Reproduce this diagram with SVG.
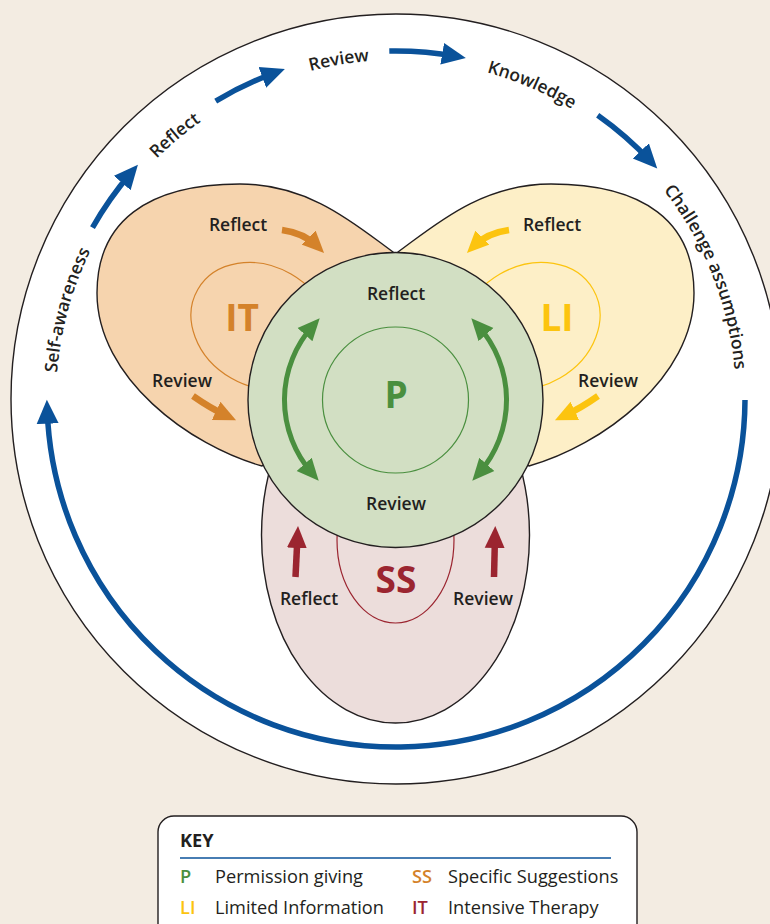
<svg xmlns="http://www.w3.org/2000/svg" width="770" height="924" viewBox="0 0 770 924">
<defs>
<style>
.lbl{font-family:"Open Sans","Noto Sans","DejaVu Sans",sans-serif;font-weight:600;font-size:17.5px;fill:#231f20}
.big{font-family:"Open Sans","Noto Sans","DejaVu Sans",sans-serif;font-weight:700;font-size:37px;text-anchor:middle}
.key{font-family:"Open Sans","Noto Sans","DejaVu Sans",sans-serif;font-size:18.2px;fill:#231f20}
.kc{font-weight:600}
.edge{stroke:#231f20;stroke-width:1.4}
.ring{fill:none;stroke-width:1.2}
.blue{fill:none;stroke:#0a529a;stroke-width:5.5}
.grn{fill:none;stroke:#4a8f3f;stroke-width:5}
.pa{fill:none;stroke-width:6.5}
</style>
<marker id="hb" viewBox="0 -12 26 24" markerWidth="26" markerHeight="24" refX="14" refY="0" orient="auto" markerUnits="userSpaceOnUse"><path d="M0,-11 L24,0 L0,11 Z" fill="#0a529a"/></marker>
<marker id="hg" viewBox="0 -11 24 22" markerWidth="24" markerHeight="22" refX="12" refY="0" orient="auto-start-reverse" markerUnits="userSpaceOnUse"><path d="M0,-10 L22,0 L0,10 Z" fill="#4a8f3f"/></marker>
<marker id="ho" viewBox="0 -11 24 22" markerWidth="24" markerHeight="22" refX="12" refY="0" orient="auto" markerUnits="userSpaceOnUse"><path d="M0,-10 L22,0 L0,10 Z" fill="#d4822a"/></marker>
<marker id="hy" viewBox="0 -11 24 22" markerWidth="24" markerHeight="22" refX="12" refY="0" orient="auto" markerUnits="userSpaceOnUse"><path d="M0,-10 L22,0 L0,10 Z" fill="#fcc40f"/></marker>
<marker id="hr" viewBox="0 -11 24 22" markerWidth="24" markerHeight="22" refX="12" refY="0" orient="auto" markerUnits="userSpaceOnUse"><path d="M0,-10 L22,0 L0,10 Z" fill="#9b2530"/></marker>
<path id="track" d="M56,400 A340,340 0 0 1 736,400 A340,340 0 0 1 56,400"/>
</defs>

<rect width="770" height="924" fill="#f3ece2"/>
<g id="outer">
<circle cx="396" cy="399" r="385" fill="#ffffff" class="edge" stroke-width="1.2"/>
</g>

<g id="cycle-labels" class="lbl">
<text><textPath href="#track" startOffset="90.8" text-anchor="middle">Self-awareness</textPath></text>
<text><textPath href="#track" startOffset="297.3" text-anchor="middle">Reflect</textPath></text>
<text><textPath href="#track" startOffset="477.1" text-anchor="middle">Review</textPath></text>
<text><textPath href="#track" startOffset="672.3" text-anchor="middle">Knowledge</textPath></text>
<text><textPath href="#track" startOffset="939.4" text-anchor="middle">Challenge assumptions</textPath></text>
</g>

<g id="node-SS">
<ellipse cx="395.5" cy="535" rx="134" ry="188" fill="#ecdddb" class="edge"/>
<ellipse cx="395.5" cy="540" rx="58.5" ry="83" class="ring" stroke="#9b2530"/>
<text class="lbl" x="309" y="605" text-anchor="middle">Reflect</text>
<text class="lbl" x="483" y="605" text-anchor="middle">Review</text>
<text class="big" x="396" y="593" fill="#9b2530">SS</text>
</g>

<g id="node-IT">
<path d="M262,466 C190,446 97,378 97,293 C97,222 147,184 240,184 C310,184 356.5,225.5 393,252 L400,330 L300,440 Z" fill="#f6d4ae" class="edge"/>
<ellipse cx="261" cy="326" rx="73" ry="60" transform="rotate(30 261 326)" class="ring" stroke="#d4822a"/>
<text class="lbl" x="238" y="231" text-anchor="middle">Reflect</text>
<text class="lbl" x="182" y="387" text-anchor="middle">Review</text>
<text class="big" x="242" y="331" fill="#d4822a">IT</text>
</g>

<g id="node-LI">
<path d="M529,466 C601,446 694,378 694,293 C694,222 644,184 551,184 C481,184 434.5,225.5 398,252 L391,330 L491,440 Z" fill="#fdefc7" class="edge"/>
<ellipse cx="530" cy="326" rx="73" ry="60" transform="rotate(-30 530 326)" class="ring" stroke="#fcc40f"/>
<text class="lbl" x="552" y="231" text-anchor="middle">Reflect</text>
<text class="lbl" x="608" y="387" text-anchor="middle">Review</text>
<text class="big" x="557" y="331" fill="#fcc40f">LI</text>
</g>

<g id="node-P">
<circle cx="395.5" cy="400" r="147.5" fill="#d2dfc3" class="edge"/>
<circle cx="395.5" cy="400" r="73" class="ring" stroke="#4a8f3f"/>
<text class="lbl" x="396" y="300" text-anchor="middle">Reflect</text>
<text class="lbl" x="396" y="510" text-anchor="middle">Review</text>
<text class="big" x="396" y="408" fill="#4a8f3f">P</text>
</g>

<g id="connectors">
<path class="blue" marker-end="url(#hb)" d="M92.5,227.6 A349,349 0 0 1 131.4,172.4"/>
<path class="blue" marker-end="url(#hb)" d="M215.7,101.1 A349,349 0 0 1 275.5,72.5"/>
<path class="blue" marker-end="url(#hb)" d="M389.3,51 A349,349 0 0 1 456,56.2"/>
<path class="blue" marker-end="url(#hb)" d="M597.7,115.2 A349,349 0 0 1 650.4,161.1"/>
<path class="blue" marker-end="url(#hb)" d="M745,400 A349,349 0 0 1 47.2,409.7"/>
<path class="grn" marker-start="url(#hg)" marker-end="url(#hg)" d="M313,325.7 A111,111 0 0 0 312.1,473.3"/>
<path class="grn" marker-start="url(#hg)" marker-end="url(#hg)" d="M478,325.7 A111,111 0 0 1 478.9,473.3"/>
<path class="pa" stroke="#d4822a" marker-end="url(#ho)" d="M282,230 Q304,233 317,246"/>
<path class="pa" stroke="#d4822a" marker-end="url(#ho)" d="M193,396 Q210,408 227,416"/>
<path class="pa" stroke="#fcc40f" marker-end="url(#hy)" d="M509,230 Q487,233 474,246"/>
<path class="pa" stroke="#fcc40f" marker-end="url(#hy)" d="M598,396 Q581,408 564,416"/>
<path class="pa" stroke="#9b2530" marker-end="url(#hr)" d="M295.5,577 Q296.5,555 297.5,536"/>
<path class="pa" stroke="#9b2530" marker-end="url(#hr)" d="M494,577 Q494.5,555 495,536"/>
</g>

<g id="key">
<rect x="158" y="816" width="479" height="130" rx="16" fill="#ffffff" class="edge" stroke-width="1.3"/>
<text class="key" x="180" y="847" font-weight="700">KEY</text>
<line x1="180" y1="858" x2="611" y2="858" stroke="#0a529a" stroke-width="1.5"/>
<text class="key kc" x="180" y="883" style="fill:#4a8f3f">P</text>
<text class="key" x="215" y="883">Permission giving</text>
<text class="key kc" x="412" y="883" style="fill:#d4822a">SS</text>
<text class="key" x="448" y="883">Specific Suggestions</text>
<text class="key kc" x="180" y="914" style="fill:#fcc40f">LI</text>
<text class="key" x="215" y="914">Limited Information</text>
<text class="key kc" x="412" y="914" style="fill:#9b2530">IT</text>
<text class="key" x="448" y="914">Intensive Therapy</text>
</g>
</svg>
